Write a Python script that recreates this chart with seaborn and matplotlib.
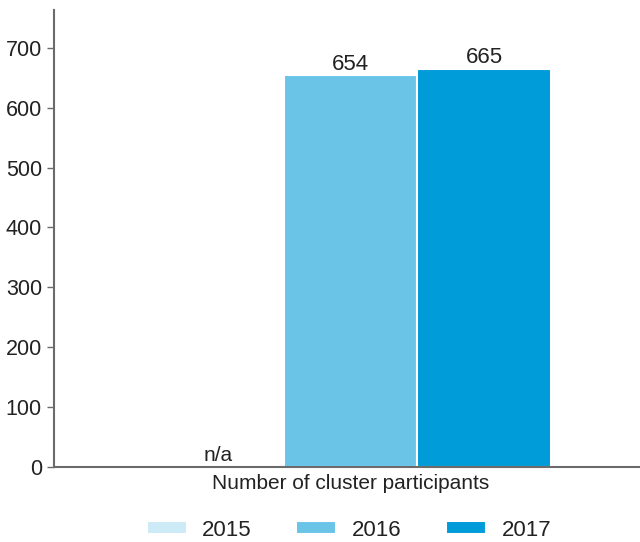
import numpy as np
import pandas as pd
import seaborn as sns
import matplotlib.pyplot as plt

# Chart data
categories = ['Number of cluster participants']
years = ['2015', '2016', '2017']
values = [np.nan, 654, 665]   # 2015 not available
colors = ['#cdeaf7', '#6ac4e8', '#009bd9']
y_ticks = [0, 100, 200, 300, 400, 500, 600, 700]

df = pd.DataFrame({'category': categories * len(years), 'year': years, 'value': values})

sns.set_style('white')
plt.rcParams['font.family'] = ['Liberation Sans', 'DejaVu Sans']
text_col = '#222222'
axis_col = '#6b6b6b'

fig = plt.figure(figsize=(6.4, 5.42), dpi=100)
ax = fig.add_axes([0.084, 0.1384, 0.916, 0.8431])

sns.barplot(data=df, x='category', y='value', hue='year', hue_order=years,
            palette=colors, saturation=1, edgecolor='white', linewidth=1.5,
            ax=ax, legend=True)

# value labels (2015 has no bar, so place n/a one bar-width left of 2016)
bar16 = ax.containers[1].patches[0]
w = bar16.get_width()
ax.text(bar16.get_x() - w / 2, 3, 'n/a', ha='center', va='bottom',
        fontsize=15, color=text_col)
for cont in ax.containers:
    for bar in cont.patches:
        h = bar.get_height()
        if np.isnan(h):
            continue
        ax.text(bar.get_x() + bar.get_width() / 2, h + 1, f'{int(h)}',
                ha='center', va='bottom', fontsize=16, color=text_col)

ax.set_ylim(0, 763)
ax.set_xlim(-0.595, 0.579)
ax.set_yticks(y_ticks)
ax.tick_params(axis='y', labelsize=15.5, colors=axis_col, labelcolor=text_col,
               length=5, width=1, direction='out', left=True)
ax.tick_params(axis='x', labelsize=15, labelcolor=text_col, length=0, pad=5)
ax.set_xlabel('')
ax.set_ylabel('')

for side in ['top', 'right']:
    ax.spines[side].set_visible(False)
for side in ['left', 'bottom']:
    ax.spines[side].set_color(axis_col)
    ax.spines[side].set_linewidth(1.5)

handles, labels = ax.get_legend_handles_labels()
ax.get_legend().remove()
fig.legend(handles, labels, loc='center', bbox_to_anchor=(0.545, 0.022),
           ncol=3, frameon=False, fontsize=16, handlelength=1.8,
           handleheight=0.55, handletextpad=0.7, columnspacing=2.0)
for t in fig.legends[0].get_texts():
    t.set_color(text_col)

fig.savefig('out.png', dpi=100)
